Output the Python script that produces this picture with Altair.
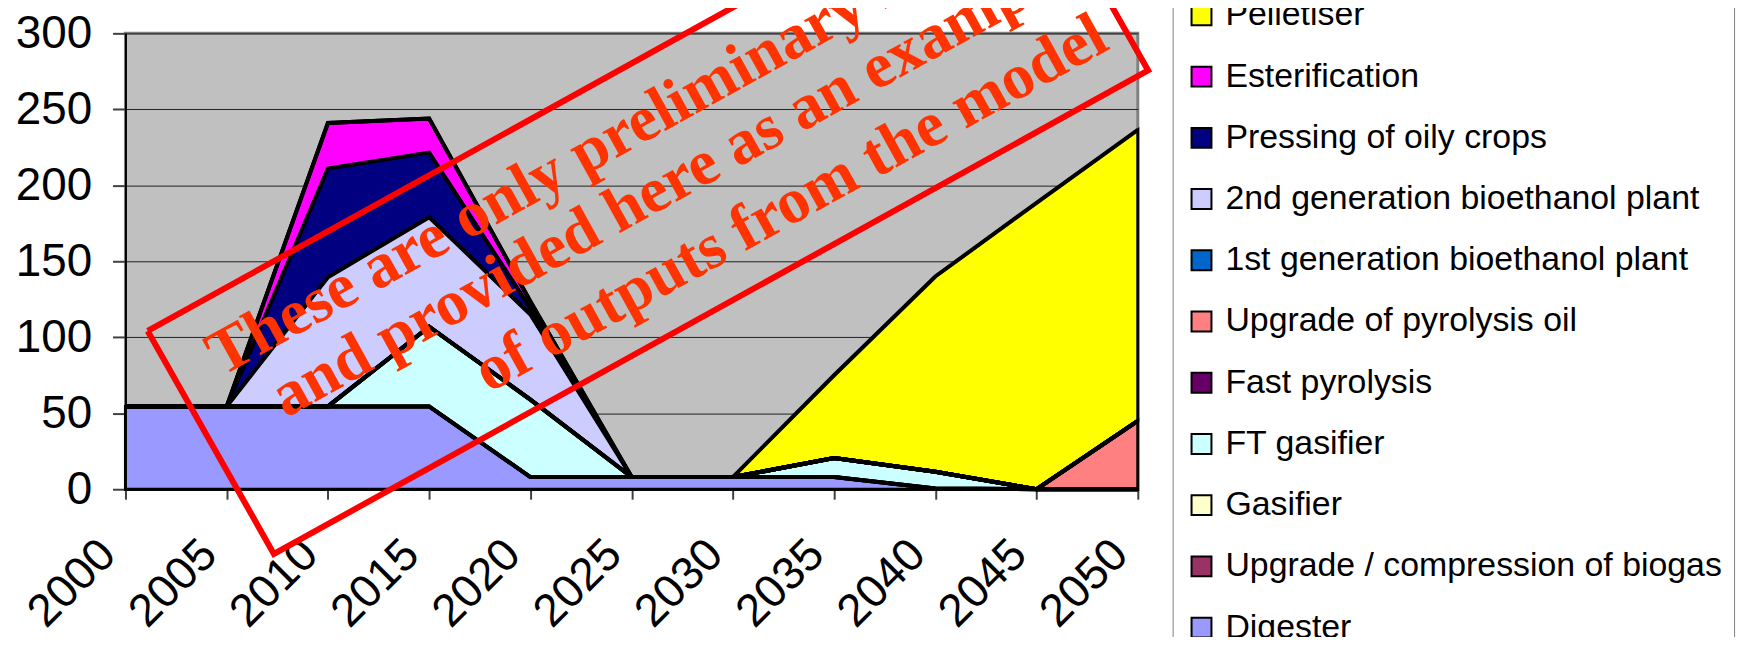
import altair as alt
import pandas as pd

years = [2000, 2005, 2010, 2015, 2020, 2025, 2030, 2035, 2040, 2045, 2050]

# legend order (top of legend = top of stack)
series_names = [
    "Pelletiser",
    "Esterification",
    "Pressing of oily crops",
    "2nd generation bioethanol plant",
    "1st generation bioethanol plant",
    "Upgrade of pyrolysis oil",
    "Fast pyrolysis",
    "FT gasifier",
    "Gasifier",
    "Upgrade / compression of biogas",
    "Digester",
]
series_colors = [
    "#FFFF00", "#FF00FF", "#000080", "#CCCCFF", "#0066CC", "#FF8080",
    "#660066", "#CCFFFF", "#FFFFCC", "#993366", "#9999FF",
]

pelletiser = [0, 0, 0, 0, 0, 0, 0, 54.5, 128.5, 188.5, 191.5]
esterification = [0, 0, 30, 22.5, 4.5, 0, 0, 0, 0, 0, 0]
pressing = [0, 0, 71.5, 42.5, 4, 0, 0, 0, 0, 0, 0]
bioethanol_2nd = [0, 0, 85, 72, 56, 0, 0, 0, 0, 0, 0]
bioethanol_1st = [0, 0, 0, 0, 0, 0, 0, 0, 0, 0, 0]
pyrolysis_oil = [0, 0, 0, 0, 0, 0, 0, 0, 0, 0, 45]
fast_pyrolysis = [0, 0, 0, 0, 0, 0, 0, 0, 0, 0, 0]
ft_gasifier = [0, 0, 0, 52.5, 51, 0, 0, 12.5, 11, 0, 0]
gasifier = [0, 0, 0, 0, 0, 0, 0, 0, 0, 0, 0]
biogas_upgrade = [0, 0, 0, 0, 0, 0, 0, 0, 0, 0, 0]
digester = [54.5, 54.5, 54.5, 54.5, 8, 8, 8, 8, 0.5, 0, 0]

series_values = [
    pelletiser, esterification, pressing, bioethanol_2nd, bioethanol_1st,
    pyrolysis_oil, fast_pyrolysis, ft_gasifier, gasifier, biogas_upgrade, digester,
]

# watermark (annotation) in data coordinates
wm_lines = [
    "These are only preliminary results",
    "and provided here as an example",
    "of outputs from the model",
]
wm_text_x = [2045.26, 2046.87, 2048.70]
wm_text_y = [373.2, 334.4, 290.3]
wm_box_x = [2001.10, 2007.33, 2050.51, 2044.28, 2001.10]
wm_box_y = [104.15, -42.58, 275.57, 422.29, 104.15]

rows = []
n = len(series_names)
for i, (name, vals) in enumerate(zip(series_names, series_values)):
    for yr, v in zip(years, vals):
        rows.append({"year": yr, "value": v, "series": name, "stack_idx": n - 1 - i})
df = pd.DataFrame(rows)

df_box = pd.DataFrame({"year": wm_box_x, "value": wm_box_y, "i": list(range(len(wm_box_x)))})
df_txt = pd.DataFrame({"year": wm_text_x, "value": wm_text_y, "t": wm_lines})

x_scale = alt.Scale(domain=[2000, 2050], nice=False, zero=False)
y_scale = alt.Scale(domain=[0, 300], nice=False)

x_axis = alt.Axis(
    values=years, format="d", title=None, grid=False,
    labelAngle=315, labelAlign="right", labelBaseline="middle",
    labelOffset=-18, labelPadding=48, labelFontSize=46, labelFont="Liberation Sans",
    labelColor="black", labelOverlap=False, labelFlush=False, labelBound=False,
    tickSize=10, tickColor="#404040", tickWidth=2,
    domainColor="black", domainWidth=2,
)
y_axis = alt.Axis(
    values=[0, 50, 100, 150, 200, 250, 300], title=None,
    labelFontSize=46, labelFont="Liberation Sans", labelColor="black",
    labelPadding=21, tickSize=13, tickColor="#404040", tickWidth=2,
    domainColor="black", domainWidth=2,
    grid=True, gridColor="#202020", gridWidth=1,
)

area = alt.Chart(df).mark_area(
    stroke="black", strokeWidth=3, strokeJoin="miter", fillOpacity=1
).encode(
    x=alt.X("year:Q", scale=x_scale, axis=x_axis),
    y=alt.Y("value:Q", stack="zero", scale=y_scale, axis=y_axis),
    color=alt.Color(
        "series:N",
        scale=alt.Scale(domain=series_names, range=series_colors),
        legend=alt.Legend(
            title=None, orient="none", legendX=1052, legendY=-47,
            symbolType="square", symbolSize=400, symbolStrokeColor="black",
            symbolStrokeWidth=2, symbolOpacity=1,
            labelFontSize=34, labelFont="Liberation Sans", labelColor="black",
            labelOffset=7, rowPadding=27.5, padding=12, labelLimit=0,
            strokeColor="#808080", fillColor="white",
        ),
    ),
    order=alt.Order("stack_idx:Q", sort="ascending"),
)

# black border along the top of every stacked series (drawn on top, full width)
edges = alt.Chart(df).transform_stack(
    stack="value", as_=["y0", "y1"], groupby=["year"],
    sort=[alt.SortField("stack_idx", order="ascending")],
).mark_line(stroke="black", strokeWidth=4, strokeJoin="miter").encode(
    x=alt.X("year:Q", scale=x_scale),
    y=alt.Y("y1:Q", scale=y_scale),
    detail="series:N",
    order=alt.Order("year:Q"),
)

box = alt.Chart(df_box).mark_line(
    color="#FF0000", strokeWidth=6, strokeJoin="miter", clip=False
).encode(
    x=alt.X("year:Q", scale=x_scale),
    y=alt.Y("value:Q", scale=y_scale),
    order=alt.Order("i:Q"),
)

txt = alt.Chart(df_txt).mark_text(
    font="Liberation Serif", fontWeight="bold", fontSize=64.5, color="#FF3300",
    angle=331, align="right", baseline="alphabetic", clip=False,
).encode(
    x=alt.X("year:Q", scale=x_scale),
    y=alt.Y("value:Q", scale=y_scale),
    text="t:N",
)

chart = alt.layer(area, edges, box, txt).properties(
    width=1017, height=458,
    autosize=alt.AutoSizeParams(type="none"),
    padding={"left": 118, "top": 24, "right": 610, "bottom": 147},
    background="white",
).configure_view(
    fill="#C0C0C0", stroke="#808080", strokeWidth=3,
)

chart.save("out.html", embed_options={"renderer": "svg", "actions": False})
